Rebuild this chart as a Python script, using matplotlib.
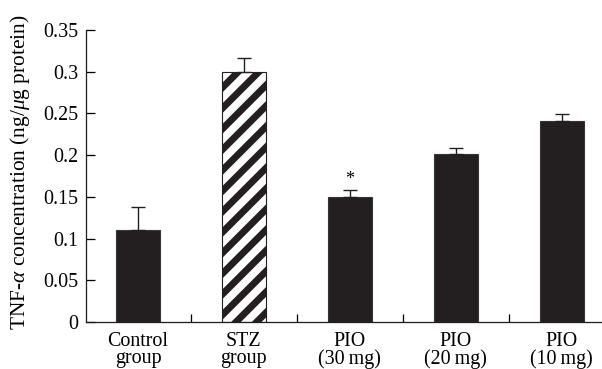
import numpy as np
import matplotlib
matplotlib.use("Agg")
import matplotlib.pyplot as plt

# Datos
grupos = ["Control\ngroup", "STZ\ngroup", "PIO\n(30\u2009mg)", "PIO\n(20\u2009mg)", "PIO\n(10\u2009mg)"]
valores = [0.110, 0.300, 0.150, 0.201, 0.241]
errores = [0.0275, 0.017, 0.008, 0.008, 0.008]
yticks = [0, 0.05, 0.1, 0.15, 0.2, 0.25, 0.3, 0.35]
ytick_labels = ["0", "0.05", "0.1", "0.15", "0.2", "0.25", "0.3", "0.35"]

plt.rcParams["font.family"] = ["Liberation Serif", "DejaVu Serif"]
plt.rcParams["mathtext.fontset"] = "custom"
plt.rcParams["mathtext.rm"] = "Liberation Serif"
plt.rcParams["mathtext.it"] = "Liberation Serif:italic"
plt.rcParams["hatch.linewidth"] = 4.0
plt.rcParams["hatch.color"] = "#231f20"

# dpi 124 -> el rayado "//" queda con ~21 px de periodo, como el original
dpi = 124
fig = plt.figure(figsize=(602 / dpi, 369 / dpi), dpi=dpi)
ax = fig.add_axes([0.1429, 0.1274, 0.8571, 0.7913])

x = np.arange(len(grupos))
oscuro = "#231f20"
colores = [oscuro, "white", oscuro, oscuro, oscuro]
bars = ax.bar(x, valores, width=0.415, color=colores, edgecolor="#3a3637", linewidth=0.65, zorder=2)
bars[1].set_hatch("//")
bars[1].set_edgecolor(oscuro)

ax.errorbar(x, valores, yerr=[np.zeros(len(valores)), errores], fmt="none",
            ecolor=oscuro, elinewidth=0.8, capsize=3.8, capthick=0.8, zorder=3)

# asterisco sobre PIO (30 mg)
ax.annotate("*", (x[2], valores[2] + errores[2]), xytext=(0, 1), textcoords="offset points",
            ha="center", va="bottom", fontsize=10.5)

ax.set_xlim(-0.49, 4.38)
ax.set_ylim(0, 0.35)
ax.set_yticks(yticks)
ax.set_yticklabels(ytick_labels)
ax.set_xticks(x)
ax.set_xticklabels(grupos, linespacing=0.9)
ax.set_xticks(x[:-1] + 0.5, minor=True)

ax.tick_params(axis="y", direction="in", length=5.2, width=0.75, pad=4.4, labelsize=11.6)
ax.tick_params(axis="x", which="major", length=0, pad=5.6, labelsize=11.6)
ax.tick_params(axis="x", which="minor", direction="in", length=4.7, width=0.75)

ax.set_ylabel(r"TNF-$\alpha$ concentration (ng/$\mu$g protein)", fontsize=12.4)
ax.yaxis.set_label_coords(-0.105, 0.514)

for s in ["top", "right"]:
    ax.spines[s].set_visible(False)
for s in ["left", "bottom"]:
    ax.spines[s].set_linewidth(0.75)
    ax.spines[s].set_color(oscuro)

fig.savefig("out.png", dpi=dpi)
